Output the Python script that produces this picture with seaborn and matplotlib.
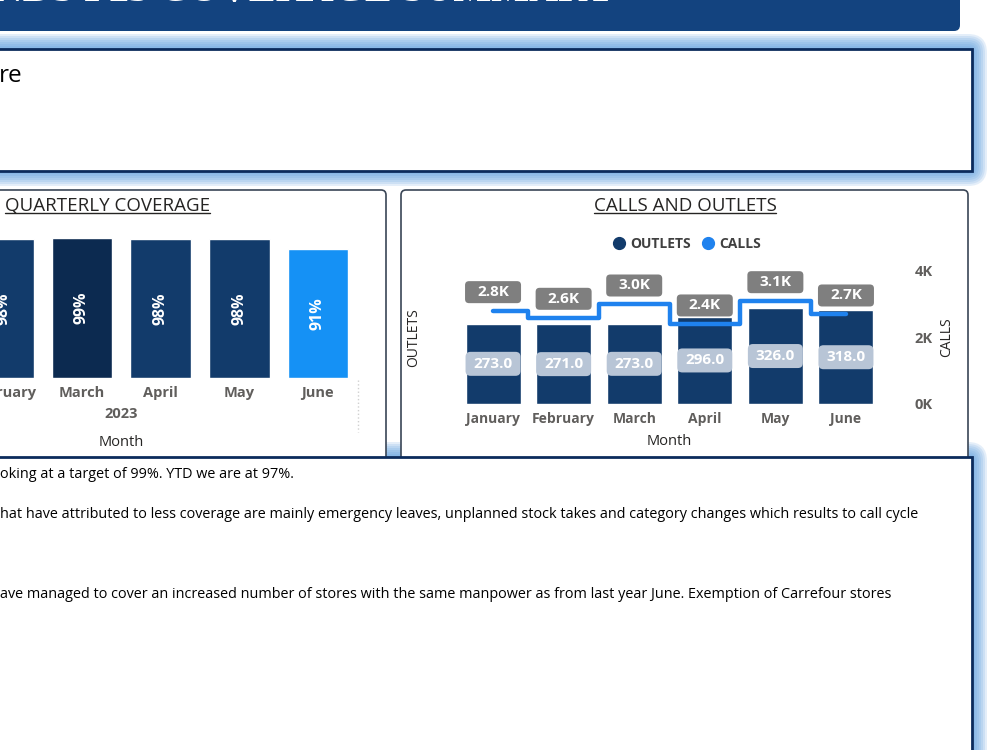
import numpy as np
import pandas as pd
import matplotlib
matplotlib.use('Agg')
import matplotlib.pyplot as plt
import seaborn as sns
from matplotlib.patches import FancyBboxPatch, BoxStyle
from matplotlib.lines import Line2D
from matplotlib import font_manager

# ---- data ----
cov_months = ['February', 'March', 'April', 'May', 'June']
cov_pct = [98, 99, 98, 98, 91]
cov_colors = ['#123B6B', '#0C2A50', '#123B6B', '#123B6B', '#1591F5']

co_months = ['January', 'February', 'March', 'April', 'May', 'June']
outlets = [273, 271, 273, 296, 326, 318]
calls = [2800, 2600, 3000, 2400, 3100, 2700]

notes = [
    "oking at a target of 99%. YTD we are at 97%.",
    "hat have attributed to less coverage are mainly emergency leaves, unplanned stock takes and category changes which results to call cycle",
    "ave managed to cover an increased number of stores with the same manpower as from last year June. Exemption of Carrefour stores",
]

sns.set_style('white')
plt.rcParams['font.family'] = ['Open Sans', 'DejaVu Sans']

W, H = 1000, 750
NAVY = '#123B6B'
GREY = '#605E5C'


def rect(l, t, r, b):
    # pixel box (from top-left) -> figure fraction rect
    return [l / W, 1 - b / H, (r - l) / W, (b - t) / H]


def fixed_box(w, h, r):
    # label box of fixed pixel size, centred on the text
    def style(x0, y0, width, height, mutation_size):
        cx, cy = x0 + width / 2, y0 + height / 2
        return BoxStyle.Round(pad=0, rounding_size=r)(cx - w / 2, cy - h / 2, w, h, 1)
    return style


fig = plt.figure(figsize=(10, 7.5), dpi=100)
fig.patch.set_facecolor('white')

# background layer in pixel coordinates
bg = fig.add_axes([0, 0, 1, 1])
bg.set_xlim(0, W)
bg.set_ylim(H, 0)
bg.axis('off')


def glow(l, t, r, b, size=15):
    for k in range(size, 0, -2):
        bg.add_patch(FancyBboxPatch((l - k, t - k), r - l + 2 * k, b - t + 2 * k,
                                    boxstyle='round,pad=0,rounding_size=%d' % (4 + k),
                                    fc='#5FA0E0', ec='none', alpha=0.17, zorder=1))


# banner
bg.add_patch(FancyBboxPatch((-20, -20), 980, 51, boxstyle='round,pad=0,rounding_size=6',
                            fc='#13437F', ec='none', zorder=1))
fig.text(615 / W, 1 - 1 / H, 'TRENDS P23 COVERAGE SUMMARY', ha='right', va='baseline',
         family='Liberation Serif', fontweight='bold', fontsize=29, color='white')

# top text box
glow(-20, 49, 972, 171)
bg.add_patch(FancyBboxPatch((-20, 49), 992, 122, boxstyle='square,pad=0',
                            fc='white', ec='#0B2B5C', lw=2, zorder=2))
fig.text(-1 / W, 1 - 76 / H, 're', ha='left', va='center', fontsize=17.5, color='black')

# chart panels
for l, r in [(-20, 386), (401, 968)]:
    bg.add_patch(FancyBboxPatch((l, 190), r - l, 300, boxstyle='round,pad=0,rounding_size=5',
                                fc='white', ec='#3A4656', lw=1.2, zorder=3))
bg.plot([358, 358], [380, 432], ls=':', color='#d0d0d0', lw=1, zorder=4)

# bottom text box
glow(-20, 457, 972, 780)
bg.add_patch(FancyBboxPatch((-20, 457), 992, 330, boxstyle='square,pad=0',
                            fc='white', ec='#0B2B5C', lw=2, zorder=6))

# ---- quarterly coverage ----
ax1 = fig.add_axes(rect(-114.75, 236.2, 357.25, 378))
ax1.patch.set_visible(False)
sns.barplot(x=cov_months, y=cov_pct, hue=cov_months, palette=cov_colors, legend=False,
            width=0.77, saturation=1, ax=ax1)
ax1.set_xlim(-1.5, 4.5)
ax1.set_ylim(0, 100)
for i, v in enumerate(cov_pct):
    ax1.text(i, v / 2, f'{v}%', rotation=90, ha='center', va='center',
             color='white', fontweight='bold', fontsize=11.5)
ax1.set_yticks([])
ax1.set_ylabel('')
ax1.tick_params(axis='x', length=0, pad=6)
for lab in ax1.get_xticklabels():
    lab.set_fontweight('bold')
    lab.set_fontsize(10.5)
    lab.set_color(GREY)
ax1.set_xlabel('Month', fontsize=10.5, color='#252423')
ax1.xaxis.set_label_coords(0.5, (378 - 442) / 141.8)
ax1.xaxis.label.set_va('center')
ax1.text(0.5, (378 - 414) / 141.8, '2023', transform=ax1.transAxes, ha='center', va='center',
         fontsize=10.5, fontweight='bold', color=GREY)
sns.despine(ax=ax1, left=True, bottom=True)

# ---- calls and outlets ----
ax2 = fig.add_axes(rect(457.75, 271, 881.25, 404))
ax2.patch.set_visible(False)
sns.barplot(x=co_months, y=outlets, color=NAVY, width=0.78, saturation=1, ax=ax2)
ax2.set_ylim(0, 452)
for i, v in enumerate(outlets):
    ax2.text(i, v / 2, f'{v:.1f}', ha='center', va='center', color='white',
             fontweight='bold', fontsize=11,
             bbox=dict(boxstyle=fixed_box(55, 24, 5), fc='#B8C5D6', ec='none'))
ax2.set_yticks([])
ax2.set_ylabel('OUTLETS', fontsize=10, color='#252423')
ax2.yaxis.set_label_coords((414 - 457.75) / 423.5, 0.5)
ax2.yaxis.label.set_va('center')
ax2.tick_params(axis='x', length=0, pad=6)
for lab in ax2.get_xticklabels():
    lab.set_fontweight('bold')
    lab.set_fontsize(10)
    lab.set_color(GREY)
ax2.set_xlabel('Month', fontsize=10.5, color='#252423')
ax2.xaxis.set_label_coords(0.5, (404 - 442) / 133)
ax2.xaxis.label.set_va('center')
sns.despine(ax=ax2, left=True, bottom=True)

ax3 = ax2.twinx()
ax3.patch.set_visible(False)
sns.lineplot(x=np.arange(len(calls)), y=calls, ax=ax3, drawstyle='steps-mid',
             color='#1F82EE', lw=3.2)
ax3.set_ylim(0, 4000)
ax2.set_xlim(-0.5, 5.5)
for i, v in enumerate(calls):
    ax3.annotate(f'{v / 1000:.1f}K', xy=(i, v), xytext=(0, 13.5), textcoords='offset points',
                 ha='center', va='center', color='white', fontweight='bold', fontsize=11,
                 bbox=dict(boxstyle=fixed_box(56, 22, 4), fc='#7F7F7F', ec='none'))
ax3.set_yticks([0, 2000, 4000])
ax3.set_yticklabels(['0K', '2K', '4K'], fontweight='bold', fontsize=10.5, color=GREY)
ax3.tick_params(axis='y', length=0, pad=24)
ax3.set_ylabel('CALLS', fontsize=10, color='#252423', rotation=90)
ax3.yaxis.set_label_coords((947 - 457.75) / 423.5, 0.5)
ax3.yaxis.label.set_va('center')
for s in ax3.spines.values():
    s.set_visible(False)

handles = [Line2D([], [], marker='o', ls='', color=NAVY, markersize=8.5, label='OUTLETS'),
           Line2D([], [], marker='o', ls='', color='#1F82EE', markersize=8.5, label='CALLS')]
fig.legend(handles=handles, loc='center', bbox_to_anchor=(683 / W, 1 - 244 / H), ncol=2,
           frameon=False, handletextpad=-0.2, columnspacing=0.2,
           prop={'weight': 'bold', 'size': 10}, labelcolor='#404040')

# panel titles (underlined)
titles = [fig.text(5 / W, 1 - 206 / H, 'QUARTERLY COVERAGE', ha='left', va='center',
                   fontsize=13.5, color='#252423'),
          fig.text(685 / W, 1 - 206 / H, 'CALLS AND OUTLETS', ha='center', va='center',
                   fontsize=13.5, color='#252423')]

# notes in the bottom box
avail = {f.name for f in font_manager.fontManager.ttflist}
body_font = 'Liberation Sans Narrow' if 'Liberation Sans Narrow' in avail else 'Open Sans'
note_y = [475, 514, 594]
note_txt = [fig.text(0, 1 - y / H, s, ha='left', va='center', fontsize=11,
                     family=body_font, color='black', zorder=10)
            for s, y in zip(notes, note_y)]

fig.canvas.draw()
r = fig.canvas.get_renderer()
scale = 924 / note_txt[1].get_window_extent(r).width
for t in note_txt:
    t.set_fontsize(11 * scale)

for t in titles:
    bb = t.get_window_extent(r)
    y = bb.y0 + 2
    fig.add_artist(Line2D([bb.x0 / W, bb.x1 / W], [y / H, y / H], transform=fig.transFigure,
                          color='#252423', lw=1))

fig.savefig('out.png', dpi=100)
